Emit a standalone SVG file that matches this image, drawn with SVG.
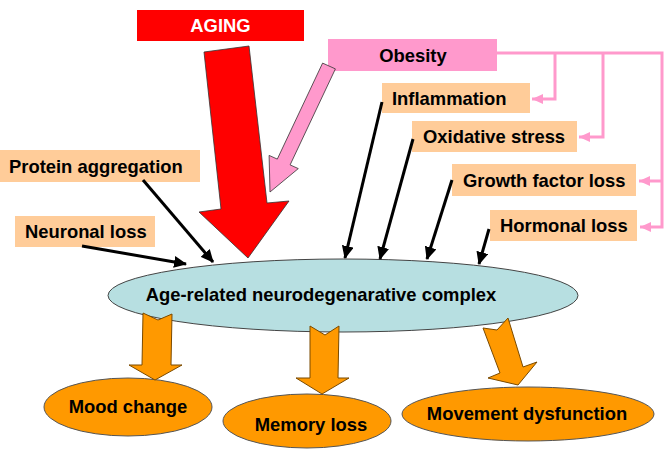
<svg xmlns="http://www.w3.org/2000/svg" width="671" height="457" viewBox="0 0 671 457">
<style>
text{font-family:"Liberation Sans",Arial,sans-serif;font-weight:bold;font-size:18.4px;fill:#000}
.peach{fill:#FFCC99}
.blk{stroke:#000;stroke-width:3;fill:none}
.pk{stroke:#FF99CC;stroke-width:3;fill:none}
.org{fill:#FF9900;stroke:#7a4a00;stroke-width:1}
.oell{fill:#FF9900;stroke:#555;stroke-width:1}
</style>
<defs>
<marker id="ab" markerUnits="userSpaceOnUse" markerWidth="14" markerHeight="12" refX="12" refY="6" orient="auto">
<path d="M0,0 L13,6 L0,12 Z" fill="#000"/>
</marker>
<marker id="ap" markerUnits="userSpaceOnUse" markerWidth="12" markerHeight="10" refX="11" refY="5" orient="auto">
<path d="M0,0 L11,5 L0,10 Z" fill="#FF99CC"/>
</marker>
</defs>
<rect width="671" height="457" fill="#fff"/>

<g id="aging">
<rect x="137" y="10" width="167" height="31" fill="#FF0000"/>
<text x="220.5" y="32" text-anchor="middle" style="fill:#fff">AGING</text>
</g>
<g id="obesity">
<rect x="328" y="39" width="169" height="32" fill="#FF99CC"/>
<text x="413" y="62" text-anchor="middle">Obesity</text>
</g>
<g id="inflammation">
<rect class="peach" x="382" y="83" width="148" height="30"/>
<text x="392" y="105">Inflammation</text>
</g>
<g id="oxidative">
<rect class="peach" x="412" y="121" width="165" height="31"/>
<text x="423" y="143">Oxidative stress</text>
</g>
<g id="growth">
<rect class="peach" x="452" y="164" width="184" height="32"/>
<text x="463" y="187">Growth factor loss</text>
</g>
<g id="hormonal">
<rect class="peach" x="490" y="210" width="147" height="31"/>
<text x="500" y="232">Hormonal loss</text>
</g>
<g id="protein">
<rect class="peach" x="0" y="150" width="200" height="32"/>
<text x="9" y="173">Protein aggregation</text>
</g>
<g id="neuronal">
<rect class="peach" x="15" y="216" width="140" height="31"/>
<text x="25" y="238">Neuronal loss</text>
</g>
<g id="complex">
<ellipse cx="343" cy="295.5" rx="235" ry="36.5" fill="#B7DFE1" stroke="#444" stroke-width="1"/>
<text x="321" y="301" text-anchor="middle">Age-related neurodegenarative complex</text>
</g>
<g id="mood">
<ellipse class="oell" cx="128" cy="407" rx="84" ry="29"/>
<text x="128" y="413" text-anchor="middle">Mood change</text>
</g>
<g id="memory">
<ellipse class="oell" cx="307" cy="421" rx="84" ry="27"/>
<text x="311" y="431" text-anchor="middle">Memory loss</text>
</g>
<g id="movement">
<ellipse class="oell" cx="528" cy="414" rx="126" ry="27"/>
<text x="527" y="420" text-anchor="middle">Movement dysfunction</text>
</g>

<g id="connectors">
<line class="blk" x1="143" y1="180" x2="213" y2="262" marker-end="url(#ab)"/>
<line class="blk" x1="82" y1="246" x2="186" y2="264" marker-end="url(#ab)"/>
<line class="blk" x1="382" y1="102" x2="345" y2="258" marker-end="url(#ab)"/>
<line class="blk" x1="413" y1="139" x2="380" y2="259" marker-end="url(#ab)"/>
<line class="blk" x1="452" y1="180" x2="427" y2="259" marker-end="url(#ab)"/>
<line class="blk" x1="489" y1="229" x2="479" y2="264" marker-end="url(#ab)"/>
<polyline class="pk" points="497,53 662,53 662,227 640,227" marker-end="url(#ap)"/>
<polyline class="pk" points="555,53 555,99 532,99" marker-end="url(#ap)"/>
<polyline class="pk" points="603,53 603,137 579,137" marker-end="url(#ap)"/>
<polyline class="pk" points="662,181 639,181" marker-end="url(#ap)"/>
<polygon points="335.4,68.9 322.6,63.1 277.3,159.1 269.1,155.4 270,192 298.3,168.6 290.1,164.9" fill="#FF99CC" stroke="#333" stroke-width="0.8"/>
<polygon points="204,52 249,46 267,203 289,201 248,258 199,212 221,209" fill="#FF0000" stroke="#333" stroke-width="0.8"/>
<polygon class="org" points="143,313 158,320 172,314 171,365 182,365 155,380 129,365 142,365"/>
<polygon class="org" points="310,326 325,335 339,326 338,378 349,378 322,394 296,378 310,378"/>
<polygon class="org" points="483,328 497,330 508,318 523,367 537,362 518,385 488,378 500,373"/>
</g>
</svg>
